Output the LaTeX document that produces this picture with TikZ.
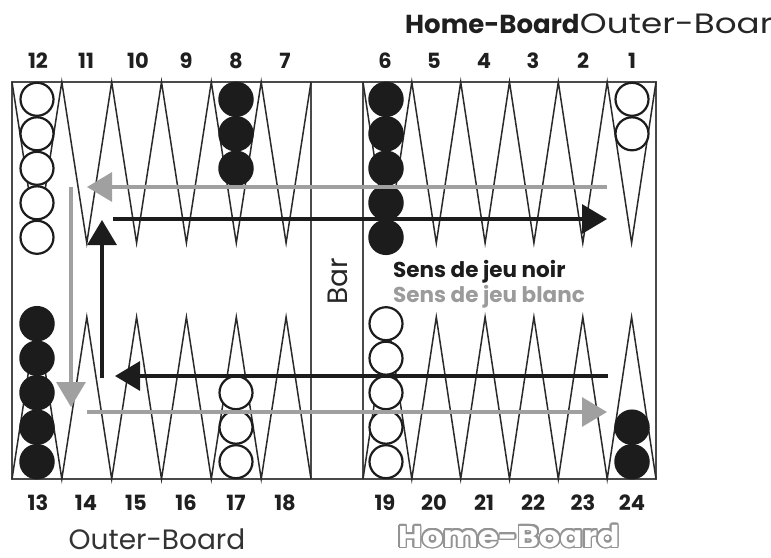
\documentclass[tikz,border=0pt]{standalone}
\usepackage{fontspec}
\setmainfont{Poppins}
\usetikzlibrary{arrows.meta}
\definecolor{arrgray}{HTML}{A0A0A0}
\definecolor{txtgray}{HTML}{9B9B9B}
\definecolor{lined}{HTML}{2A2A2A}
\definecolor{boardln}{HTML}{4A4A4A}
\definecolor{chk}{HTML}{1C1C1C}
\begin{document}
\begin{tikzpicture}[x=1pt,y=-1pt,
  board/.style={draw=boardln,line width=1.6pt},
  tri/.style={draw=lined,line width=1.5pt,line join=miter},
  wchk/.style={circle,draw=chk,fill=white,line width=2.2pt,minimum size=33pt,inner sep=0pt},
  bchk/.style={circle,fill=chk,minimum size=35.5pt,inner sep=0pt},
  numlab/.style={anchor=base,font=\fontsize{21}{21}\selectfont\bfseries,text=black!88},
  garrow/.style={draw=arrgray,line width=3.2pt,-{Triangle[length=25pt,width=29pt]}},
  barrow/.style={draw=chk,line width=3.2pt,-{Triangle[length=25pt,width=29pt]}},
  hbtext/.style={anchor=base,font=\fontsize{30}{30}\selectfont\bfseries,xscale=1.1}
]
\useasboundingbox (0,0) rectangle (771,557);
% board
\draw[board] (12,82) rectangle (656,479);
\draw[board] (311,82) -- (311,479);
\draw[board] (363,82) -- (363,479);
% top points
\draw[tri] (12,82) -- (36.9,243) -- (61.8,82) -- (86.8,243) -- (111.7,82) -- (136.6,243) -- (161.5,82) -- (186.4,243) -- (211.3,82) -- (236.3,243) -- (261.2,82) -- (286.1,243) -- (311,82);
\draw[tri] (363,82) -- (387.4,243) -- (411.8,82) -- (436.3,243) -- (460.7,82) -- (485.1,243) -- (509.5,82) -- (533.9,243) -- (558.3,82) -- (582.8,243) -- (607.2,82) -- (631.6,243) -- (656,82);
% bottom points
\draw[tri] (12,479) -- (36.9,317) -- (61.8,479) -- (86.8,317) -- (111.7,479) -- (136.6,317) -- (161.5,479) -- (186.4,317) -- (211.3,479) -- (236.3,317) -- (261.2,479) -- (286.1,317) -- (311,479);
\draw[tri] (363,479) -- (387.4,317) -- (411.8,479) -- (436.3,317) -- (460.7,479) -- (485.1,317) -- (509.5,479) -- (533.9,317) -- (558.3,479) -- (582.8,317) -- (607.2,479) -- (631.6,317) -- (656,479);
% checkers top
\foreach \k in {0,...,4} \node[wchk] (w12-\k) at (37,99.3+34.5*\k) {};
\foreach \k in {0,...,2} \node[bchk] (b8-\k) at (236,99.3+34.5*\k) {};
\foreach \k in {0,...,4} \node[bchk] (b6-\k) at (386,99.3+34.5*\k) {};
\foreach \k in {0,...,1} \node[wchk] (w1-\k) at (632,99.3+34.5*\k) {};
% checkers bottom
\foreach \k in {0,...,4} \node[bchk] (b13-\k) at (37,461.7-34.5*\k) {};
\foreach \k in {0,...,2} \node[wchk] (w17-\k) at (236,461.7-34.5*\k) {};
\foreach \k in {0,...,4} \node[wchk] (w19-\k) at (386,461.7-34.5*\k) {};
\foreach \k in {0,...,1} \node[bchk] (b24-\k) at (632,461.7-34.5*\k) {};
% arrow end points
\coordinate (g1s) at (607,187); \coordinate (g1e) at (87,187);
\coordinate (g2s) at (71,187);  \coordinate (g2e) at (71,407);
\coordinate (g3s) at (87,412);  \coordinate (g3e) at (607,412);
\coordinate (k1s) at (113,219); \coordinate (k1e) at (607,219);
\coordinate (k2s) at (102,378); \coordinate (k2e) at (102,220);
\coordinate (k3s) at (608,376); \coordinate (k3e) at (115,376);
\draw[garrow] (g1s) -- (g1e);
\draw[garrow] (g2s) -- (g2e);
\draw[garrow] (g3s) -- (g3e);
\draw[barrow] (k1s) -- (k1e);
\draw[barrow] (k2s) -- (k2e);
\draw[barrow] (k3s) -- (k3e);
% top numbers
\foreach \n/\x in {12/38,11/86,10/138,9/186,8/236,7/285,6/385,5/434,4/484,3/533,2/583,1/632}
  \node[numlab] (t\n) at (\x,68) {\n};
% bottom numbers
\foreach \n/\x in {13/38,14/86,15/136,16/186,17/236,18/285,19/385,20/434,21/484,22/533,23/583,24/632}
  \node[numlab] (u\n) at (\x,510) {\n};
% bar label
\node[rotate=90,font=\fontsize{28}{28}\selectfont,text=black!85] (bar) at (338,281) {Bar};
% direction texts
\node[anchor=base west,inner sep=0pt,font=\fontsize{21.5}{21.5}\selectfont\bfseries,text=chk] (noir) at (393,277) {Sens de jeu noir};
\node[anchor=base west,inner sep=0pt,font=\fontsize{21.5}{21.5}\selectfont\bfseries,text=txtgray] (blanc) at (393,302) {Sens de jeu blanc};
% title
\node[anchor=base west,inner sep=0pt,font=\fontsize{26}{26}\selectfont\bfseries,text=black!88] (titlehb) at (405,33) {Home-Board};
\node[anchor=base west,inner sep=0pt,font=\fontsize{28}{28}\selectfont,text=black!85,xscale=1.22] (titleob) at (titlehb.base east) {Outer-Board};
% bottom labels
\node[anchor=base,inner sep=0pt,font=\fontsize{28}{28}\selectfont,text=black!80] (outerb) at (157,549) {Outer-Board};
\foreach \a in {0,22.5,...,337.5}
  \path[shift={(\a:1.6)}] (509,547) node[hbtext,text=gray!85] {Home-Board};
\node[hbtext,text=white] (homeb) at (509,547) {Home-Board};
\end{tikzpicture}
\end{document}
